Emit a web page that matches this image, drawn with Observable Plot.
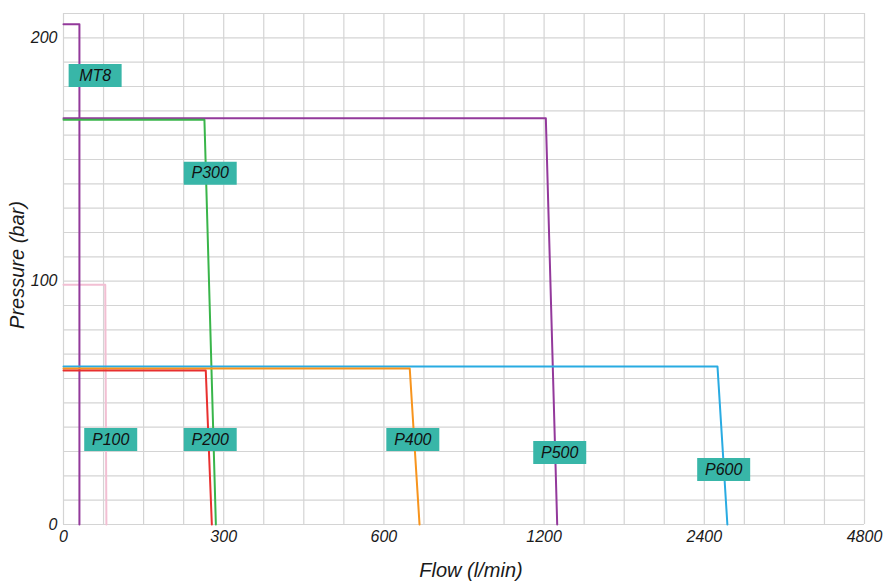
<!DOCTYPE html>
<html>
<head>
<meta charset="utf-8">
<script src="https://cdn.jsdelivr.net/npm/d3@7"></script>
<script src="https://cdn.jsdelivr.net/npm/@observablehq/plot@0.6"></script>
<style>
  html, body { margin: 0; padding: 0; background: #fff; }
  #chart { width: 886px; height: 582px; }
</style>
</head>
<body>
<div id="chart"></div>
<script>
// ---- data ----
const names        = ["MT8", "P100", "P200", "P300", "P400", "P500", "P600"];
const maxPressure  = [205.6, 98.5, 63.3, 166.3, 64.1, 167.0, 64.9];   // bar, flat part
const kneeFlow     = [160.7, 179.7, 277.6, 276.0, 671, 1209, 2541];   // l/min, end of flat part
const maxFlow      = [160.7, 180.6, 285.0, 290.0, 700, 1270, 2652];   // l/min, at 0 bar
const startFlow    = 150;                                            // left edge (labelled "0")
const colors       = ["#93399b", "#f2bfd3", "#e8302f", "#39b54a", "#f7941d", "#93399b", "#29abe2"];
const labelFlow    = [172, 184, 283, 283, 680, 1284, 2610];
const labelPressure= [184.5, 34.9, 34.9, 144.4, 34.9, 29.6, 22.6];

const xTicks      = [150, 300, 600, 1200, 2400, 4800];
const xTickLabels = ["0", "300", "600", "1200", "2400", "4800"];
const yTicks      = [0, 100, 200];
const xTitle = "Flow (l/min)";
const yTitle = "Pressure (bar)";

// ---- build tables ----
const drawOrder = [1, 0, 5, 3, 6, 4, 2];
const lines = [];
for (const i of drawOrder) {
  lines.push({name: names[i], flow: startFlow, pressure: maxPressure[i]});
  lines.push({name: names[i], flow: kneeFlow[i], pressure: maxPressure[i]});
  lines.push({name: names[i], flow: maxFlow[i], pressure: 0});
}
const labels = names.map((n, i) => ({name: n, flow: labelFlow[i], pressure: labelPressure[i]}));
const xGrid = d3.range(21).map(k => 150 * Math.pow(2, k / 4));
const yGrid = d3.range(0, 211, 10);

const box = {draw(ctx) { ctx.rect(-26.5, -11.5, 53, 23); }};
const font = "'Liberation Sans', Arial, Helvetica, sans-serif";

const chart = Plot.plot({
  width: 886,
  height: 582,
  marginLeft: 63,
  marginRight: 22,
  marginTop: 13,
  marginBottom: 58,
  style: {fontFamily: font, fontStyle: "italic", fontSize: "16px", color: "#1a1a1a", background: "#fff"},
  x: {type: "log", base: 2, domain: [150, 4800], label: null},
  y: {domain: [0, 210], label: null},
  color: {domain: names, range: colors},
  marks: [
    Plot.gridX(xGrid, {stroke: "#d4d4d4", strokeOpacity: 1, strokeWidth: 1.2}),
    Plot.gridY(yGrid, {stroke: "#d4d4d4", strokeOpacity: 1, strokeWidth: 1.2}),
    Plot.axisX({ticks: xTicks, tickFormat: d => xTickLabels[xTicks.indexOf(d)], tickSize: 0, tickPadding: 6, label: null, fontSize: 16, fontStyle: "italic", fill: "#1a1a1a"}),
    Plot.axisY({ticks: yTicks, tickSize: 0, tickPadding: 6, label: null, fontSize: 16, fontStyle: "italic", fill: "#1a1a1a"}),
    Plot.line(lines, {x: "flow", y: "pressure", z: "name", stroke: "name", strokeWidth: 2, curve: "linear"}),
    Plot.dot(labels, {x: "flow", y: "pressure", symbol: box, r: 10, fill: "#38b6a8", stroke: null}),
    Plot.text(labels, {x: "flow", y: "pressure", text: "name", fontSize: 16, fontStyle: "italic", fill: "#111"}),
    Plot.text([xTitle], {text: d => d, frameAnchor: "bottom", textAnchor: "middle", lineAnchor: "middle", dy: 46, dx: 7, fontSize: 20, fontStyle: "italic", fill: "#1a1a1a"}),
    Plot.text([yTitle], {text: d => d, frameAnchor: "left", textAnchor: "middle", lineAnchor: "middle", rotate: -90, dx: -46, dy: -4, fontSize: 20, fontStyle: "italic", fill: "#1a1a1a"})
  ]
});
document.getElementById("chart").appendChild(chart);
</script>
</body>
</html>
